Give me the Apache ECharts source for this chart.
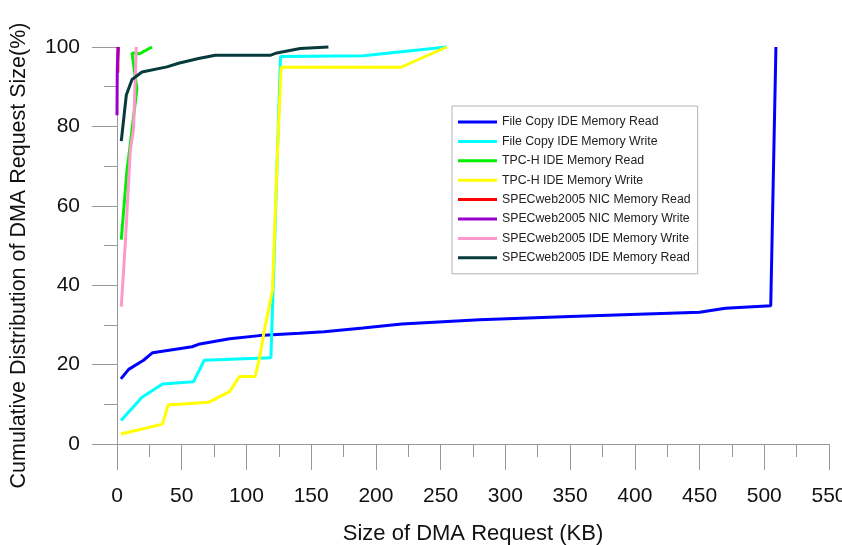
<!DOCTYPE html>
<html>
<head>
<meta charset="utf-8">
<script src="https://cdn.jsdelivr.net/npm/echarts@6/dist/echarts.min.js"></script>
<style>html,body{margin:0;padding:0;background:#fff;}#c{width:842px;height:545px;}</style>
</head>
<body>
<div id="c"></div>
<script>
// ---- data (x = DMA request size in KB, y = cumulative %) ----
const seriesNames = [
  'File Copy IDE Memory Read',
  'File Copy IDE Memory Write',
  'TPC-H IDE Memory Read',
  'TPC-H IDE Memory Write',
  'SPECweb2005 NIC Memory Read',
  'SPECweb2005 NIC Memory Write',
  'SPECweb2005 IDE Memory Write',
  'SPECweb2005 IDE Memory Read'
];
const fileCopyRead = [[3,16.4],[9,18.8],[20.5,21.1],[27.5,23],[58,24.5],[64,25.2],[87,26.5],[110,27.3],[141,27.9],[160,28.3],[190,29.2],[220,30.2],[280,31.3],[350,32.1],[450,33.2],[470,34.2],[505,34.8],[509,100]];
const fileCopyWrite = [[3.1,5.9],[19.3,11.8],[35.2,15.1],[59.1,15.7],[67.4,21.1],[118.9,21.7],[126.3,97.6],[190.3,97.8],[254.7,100]];
const tpchRead = [[3.3,51.5],[5.6,60.6],[7.7,69],[9.7,74],[15.4,89.5],[11.6,98.5],[17.5,98.3],[27,100]];
const tpchWrite = [[3.1,2.5],[35.2,5.0],[39.4,9.8],[70.7,10.5],[86.9,13.2],[94.6,17.0],[106.7,17.0],[110,21.5],[113.2,27.5],[120.1,38.8],[124.3,76.5],[126.8,94.9],[219.4,94.9],[254.7,100]];
const specNicRead = [[0.6,93.5],[0.7,96.8],[1.0,100]];
const specNicWrite = [[0.0,82.8],[0.2,94.2],[0.8,100]];
const specIdeWrite = [[3.3,34.6],[6.4,50.5],[10.3,74],[12.8,79.5],[14.9,100]];
const specIdeRead = [[3.3,76.3],[7.2,87.9],[11.6,91.8],[19.3,93.7],[38.6,95.0],[47.5,95.9],[63,97.1],[75.9,97.9],[118.3,97.9],[123.5,98.5],[141.5,99.6],[163.3,100]];
const xTickLabels = ['0','50','100','150','200','250','300','350','400','450','500','550'];
const yTickLabels = ['0','20','40','60','80','100'];

const seriesData = [fileCopyRead, fileCopyWrite, tpchRead, tpchWrite, specNicRead, specNicWrite, specIdeWrite, specIdeRead];
const colors = ['#0000ff','#00ffff','#00ee00','#ffff00','#ff0000','#9900cc','#ff99cc','#073b3b'];

const chart = echarts.init(document.getElementById('c'), null, {renderer:'canvas'});
const font = 'Liberation Sans, Arial, sans-serif';
const axisGray = '#999999';

chart.setOption({
  backgroundColor: '#ffffff',
  animation: false,
  color: colors,
  grid: { left: 117, right: 13, top: 47, bottom: 101, containLabel: false, outerBoundsMode: 'none' },
  legend: {
    orient: 'vertical',
    left: 452, top: 106,
    padding: [9, 7, 9, 6],
    backgroundColor: '#fff',
    borderColor: '#b4b4b4', borderWidth: 1,
    icon: 'rect',
    itemWidth: 39, itemHeight: 3, itemGap: 5.4,
    textStyle: { fontFamily: font, fontSize: 12.3, color: '#222', lineHeight: 14 },
    data: seriesNames
  },
  xAxis: {
    type: 'value', min: 0, max: 550, interval: 50,
    name: 'Size of DMA Request (KB)', nameLocation: 'middle', nameGap: 79,
    nameTextStyle: { fontFamily: font, fontSize: 22, color: '#111' },
    axisLine: { show: true, onZero: false, lineStyle: { color: axisGray, width: 1 } },
    axisTick: { show: true, length: 26, lineStyle: { color: axisGray } },
    minorTick: { show: true, splitNumber: 2, length: 13, lineStyle: { color: axisGray } },
    splitLine: { show: false },
    axisLabel: { fontFamily: font, fontSize: 21, color: '#111', margin: 42,
      formatter: v => xTickLabels[Math.round(v / 50)] }
  },
  yAxis: {
    type: 'value', min: 0, max: 100, interval: 20,
    name: 'Cumulative Distribution of DMA Request Size(%)', nameLocation: 'middle', nameGap: 87,
    nameTextStyle: { fontFamily: font, fontSize: 21.5, color: '#111', padding: [0, 20, 0, 0] },
    axisLine: { show: true, onZero: false, lineStyle: { color: axisGray, width: 1 } },
    axisTick: { show: true, length: 25, lineStyle: { color: axisGray } },
    minorTick: { show: true, splitNumber: 2, length: 13, lineStyle: { color: axisGray } },
    splitLine: { show: false },
    axisLabel: { fontFamily: font, fontSize: 21, color: '#111', margin: 37,
      formatter: v => yTickLabels[Math.round(v / 20)] }
  },
  series: seriesNames.map((n, i) => ({
    name: n, type: 'line', data: seriesData[i],
    symbol: 'none', clip: false,
    lineStyle: { width: 3, color: colors[i] },
    itemStyle: { color: colors[i] }
  }))
});
</script>
</body>
</html>
